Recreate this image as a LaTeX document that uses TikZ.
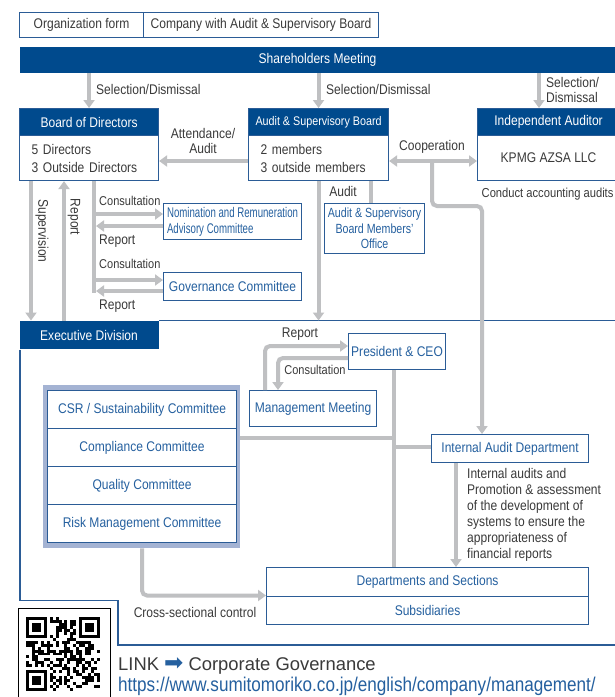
\documentclass[tikz,border=0pt]{standalone}
\usepackage{fontspec}
\setmainfont[FakeStretch=0.86]{Liberation Sans}
\newfontfamily\widefont{Liberation Sans}
\newfontfamily\narrowfont[FakeStretch=0.69]{Liberation Sans}
\newfontfamily\officefont[FakeStretch=0.80]{Liberation Sans}
\newfontfamily\symfont{DejaVu Sans}
\usetikzlibrary{arrows.meta}
\definecolor{dblue}{HTML}{004A8D}
\definecolor{bline}{HTML}{2B5C96}
\definecolor{tblue}{HTML}{25609F}
\definecolor{connc}{HTML}{BFC0C2}
\definecolor{lav}{HTML}{A4B3D3}
\definecolor{tgray}{HTML}{3A3A3A}
\tikzset{
 hdr/.style={fill=dblue, draw=bline, line width=1.1pt, text=white, inner sep=0pt, font=\fontsize{14}{17}\selectfont},
 bx/.style={fill=white, draw=bline, line width=1.1pt, text=tblue, inner sep=0pt, font=\fontsize{14}{17}\selectfont},
 gbox/.style={bx, text=tgray},
 lbl/.style={text=tgray, inner sep=0pt, font=\fontsize{14}{16}\selectfont},
 conn/.style={draw=connc, line width=4pt},
 arr/.style={conn, -{Triangle[width=11pt,length=8pt]}},
 exframe/.style={draw=bline, line width=1.5pt},
}
\begin{document}
\begin{tikzpicture}[x=1pt,y=-1pt]
\path[use as bounding box] (0,0) rectangle (615,697);
\clip (0,0) rectangle (615,697);
\fill[white] (0,0) rectangle (615,697);

% organization form
\node[gbox, anchor=north west, minimum width=124pt, minimum height=25pt] (orgA) at (19,12) {Organization form};
\node[gbox, anchor=north west, minimum width=235pt, minimum height=25pt] (orgB) at (143,12) {Company with Audit \& Supervisory Board};

% shareholders
\node[hdr, draw=none, anchor=north west, minimum width=596pt, minimum height=26pt] (sh) at (19,46) {Shareholders Meeting};

% board of directors
\node[hdr, anchor=north west, minimum width=139pt, minimum height=27pt] (bodh) at (19,108) {Board of Directors};
\node[gbox, anchor=north west, minimum width=139pt, minimum height=45pt, text width=115pt, inner xsep=12pt, align=left, font=\fontsize{14}{18}\selectfont] (bod) at (19,135) {5 Directors\\3 Outside Directors};

% audit & supervisory board
\node[hdr, anchor=north west, minimum width=140pt, minimum height=27pt, font=\fontsize{12.5}{15}\selectfont] (asbh) at (248,108) {Audit \& Supervisory Board};
\node[gbox, anchor=north west, minimum width=140pt, minimum height=45pt, text width=116pt, inner xsep=12pt, align=left, font=\fontsize{14}{18}\selectfont] (asb) at (248,135) {2 members\\3 outside members};

% independent auditor
\node[hdr, anchor=north west, minimum width=142pt, minimum height=27pt] (iah) at (477,108) {Independent Auditor};
\node[gbox, anchor=north west, minimum width=142pt, minimum height=45pt] (ia) at (477,135) {KPMG AZSA LLC};
\node[lbl, anchor=west, font=\fontsize{13}{15}\selectfont] (cond) at (481.5,194) {Conduct accounting audits};

% committees under the board
\node[bx, anchor=north west, minimum width=138pt, minimum height=36pt, align=left, font=\narrowfont\fontsize{14}{16}\selectfont] (nom) at (163,203) {Nomination and Remuneration\\Advisory Committee\hfill\null};
\node[bx, anchor=north west, minimum width=138pt, minimum height=28pt] (gov) at (163,272) {Governance Committee};
\node[bx, anchor=north west, minimum width=100pt, minimum height=50pt, align=center, font=\officefont\fontsize{13.3}{15.5}\selectfont] (off) at (324,203) {Audit \& Supervisory\\Board Members’\\Office};

% executive division
\node[hdr, draw=none, anchor=north west, minimum width=139pt, minimum height=28pt] (exh) at (19,320.5) {Executive Division};
\draw[exframe] (exh.north east) -- ++(470,0);
\draw[exframe] ([xshift=0.8pt]exh.south west) -- ++(0,251) -- ++(98,0) -- ++(0,44.5) -- ++(510,0);

\node[fill=lav, anchor=north west, minimum width=197pt, minimum height=163pt, inner sep=0pt] (comm) at (43,385) {};
\node[bx, anchor=north west, minimum width=189pt, minimum height=38pt] (c1) at (47,390) {CSR / Sustainability Committee};
\node[bx, anchor=north west, minimum width=189pt, minimum height=38pt] (c2) at (47,428) {Compliance Committee};
\node[bx, anchor=north west, minimum width=189pt, minimum height=38pt] (c3) at (47,466) {Quality Committee};
\node[bx, anchor=north west, minimum width=189pt, minimum height=38pt] (c4) at (47,504) {Risk Management Committee};

\node[bx, anchor=north west, minimum width=127pt, minimum height=36pt] (mm) at (249,390) {Management Meeting};
\node[bx, anchor=north west, minimum width=97pt, minimum height=36pt] (ceo) at (348,333) {President \& CEO};
\node[bx, anchor=north west, minimum width=157pt, minimum height=28pt] (iad) at (431,434) {Internal Audit Department};
\node[bx, anchor=north west, minimum width=322pt, minimum height=28.5pt] (dep) at (266,567) {Departments and Sections};
\node[bx, anchor=north west, minimum width=322pt, minimum height=28.5pt] (sub) at (266,595.5) {Subsidiaries};

\node[lbl, anchor=north west, align=left] (iadtxt) at (467,468.5) {Internal audits and\\Promotion \& assessment\\of the development of\\systems to ensure the\\appropriateness of\\financial reports};

% helper coordinates
\coordinate (xIA) at (539,0);
\coordinate (yAtt) at (0,161);
\coordinate (xCoop) at (432,0);
\coordinate (yCoop) at (0,206);
\coordinate (xIAD) at (482,0);
\coordinate (xAud) at (371,0);
\coordinate (xSup) at (31,0);
\coordinate (xRep) at (64,0);
\coordinate (xC) at (94,0);
\coordinate (xCr) at (96,0);
\coordinate (yC1) at (0,214);
\coordinate (yR1) at (0,226);
\coordinate (yC2) at (0,280);
\coordinate (yR2) at (0,291);
\coordinate (yR2b) at (0,293);
\coordinate (xMR) at (265,0);
\coordinate (yMR) at (0,346);
\coordinate (xMC) at (278,0);
\coordinate (yMC) at (0,358);
\coordinate (xP) at (394,0);
\coordinate (yB1) at (0,438);
\coordinate (yB2) at (0,447);
\coordinate (xIA2) at (456,0);
\coordinate (xCS) at (142,0);

% connectors
\draw[arr] (sh.south -| bodh.north) -- (bodh.north);
\draw[arr] (sh.south -| asbh.north) -- (asbh.north);
\draw[arr] (sh.south -| xIA) -- (iah.north -| xIA);
\draw[arr] (asb.west |- yAtt) -- (bod.east |- yAtt);
\draw[conn, {Triangle[width=11pt,length=8pt]}-{Triangle[width=11pt,length=8pt]}] (asb.east |- yAtt) -- (ia.west |- yAtt);
\draw[arr, rounded corners=5pt] (xCoop |- yAtt) -- (xCoop |- yCoop) -- (xIAD |- yCoop) -- (iad.north -| xIAD);
\draw[conn] (asb.south -| xAud) -- (off.north -| xAud);
\draw[arr] (asb.south) -- (asb.south |- exh.north);
\draw[arr] (bod.south -| xSup) -- (exh.north -| xSup);
\draw[arr] (exh.north -| xRep) -- (bod.south -| xRep);
\draw[conn] (bod.south -| xC) -- (xC |- yR2b);
\draw[arr] (xC |- yC1) -- (nom.west |- yC1);
\draw[arr] (nom.west |- yR1) -- (xCr |- yR1);
\draw[arr] (xC |- yC2) -- (gov.west |- yC2);
\draw[arr] (gov.west |- yR2) -- (xCr |- yR2);
\draw[arr, rounded corners=5pt] (mm.north -| xMR) -- (xMR |- yMR) -- (ceo.west |- yMR);
\draw[arr, rounded corners=5pt] (ceo.west |- yMC) -- (xMC |- yMC) -- (mm.north -| xMC);
\draw[conn] (ceo.south -| xP) -- (dep.north -| xP);
\draw[conn] (xP |- yB1) -- (comm.east |- yB1);
\draw[conn] (xP |- yB2) -- (iad.west |- yB2);
\draw[arr] (iad.south -| xIA2) -- (dep.north -| xIA2);
\draw[arr, rounded corners=5pt] (comm.south -| xCS) -- (xCS |- sub.north west) -- (sub.north west);

% labels
\node[lbl, anchor=west] (lsel1) at (96,89) {Selection/Dismissal};
\node[lbl, anchor=west] (lsel2) at (326,89) {Selection/Dismissal};
\node[lbl, anchor=west, align=left, font=\fontsize{14}{15}\selectfont] (lsel3) at (546,90) {Selection/\\Dismissal};
\node[lbl, align=center, font=\fontsize{14}{15}\selectfont] (latt) at (203,141) {Attendance/\\Audit};
\node[lbl] (lcoop) at (432,147) {Cooperation};
\node[lbl] (laud) at (343,191) {Audit};
\node[lbl, anchor=west, font=\fontsize{12.8}{15}\selectfont] (lc1) at (99,201) {Consultation};
\node[lbl, anchor=west] (lr1) at (99,241) {Report};
\node[lbl, anchor=west, font=\fontsize{12.8}{15}\selectfont] (lc2) at (99,264) {Consultation};
\node[lbl, anchor=west] (lr2) at (99,306) {Report};
\node[lbl, rotate=-90] (lsup) at (42,231) {Supervision};
\node[lbl, rotate=-90] (lrep) at (74,217) {Report};
\node[lbl] (lmr) at (300,334) {Report};
\node[lbl, font=\fontsize{12.8}{15}\selectfont] (lmc) at (315,370) {Consultation};
\node[lbl] (lcs) at (195,612) {Cross-sectional control};

% QR code box
\draw[black, line width=1pt] (18.5,608) rectangle (110,705);
\begin{scope}[shift={(26,617)}]
\pgfmathsetseed{12}
\foreach \i in {0,...,24}{
  \foreach \j in {0,...,24}{
    \pgfmathrandominteger{\r}{0}{1}
    \ifnum\r=1 \fill[black] (\i*2.96,\j*2.96) rectangle ++(2.96,2.96); \fi
  }
}
\foreach \ox/\oy in {0/0, 17/0, 0/17}{
  \fill[white] (\ox*2.96,\oy*2.96) rectangle ++(8*2.96,8*2.96);
}
\foreach \ox/\oy in {0/0, 18/0, 0/18}{
  \fill[black] (\ox*2.96,\oy*2.96) rectangle ++(7*2.96,7*2.96);
  \fill[white] (\ox*2.96+2.96,\oy*2.96+2.96) rectangle ++(5*2.96,5*2.96);
  \fill[black] (\ox*2.96+5.92,\oy*2.96+5.92) rectangle ++(3*2.96,3*2.96);
}
\end{scope}

% link
\node[anchor=west, text=tgray, inner sep=0pt, font=\widefont\fontsize{18.4}{20}\selectfont] (link) at (118,666) {LINK {\symfont\fontsize{23}{23}\selectfont\color{tblue}➡} Corporate Governance};
\node[anchor=west, text=tblue, inner sep=0pt, font=\fontsize{19.9}{22}\selectfont] (url) at (118,686) {https://www.sumitomoriko.co.jp/english/company/management/};
\end{tikzpicture}
\end{document}
